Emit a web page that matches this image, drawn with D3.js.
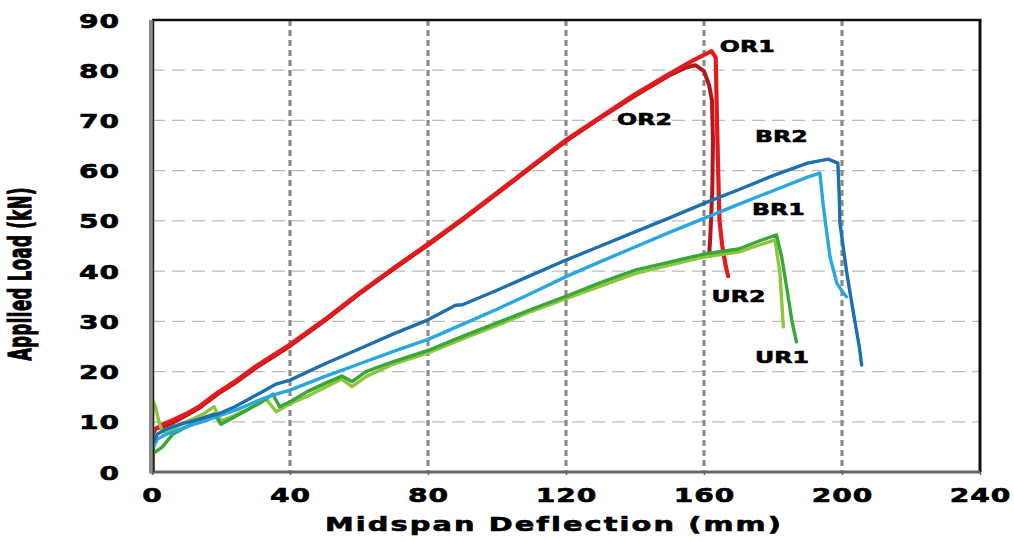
<!DOCTYPE html>
<html>
<head>
<meta charset="utf-8">
<script src="https://cdn.jsdelivr.net/npm/d3@7"></script>
<style>
  html, body { margin: 0; padding: 0; background: #fff; }
  svg { display: block; }
  text { font-family: "DejaVu Sans", sans-serif; font-weight: bold; fill: #000; stroke: #000; stroke-width: 0.6px; }
</style>
</head>
<body>
<svg id="chart" width="1014" height="542"></svg>
<script>
// Tick values
const xTicks = [0, 40, 80, 120, 160, 200, 240];
const yTicks = [0, 10, 20, 30, 40, 50, 60, 70, 80, 90];

// Load–deflection curves: [midspan deflection (mm), applied load (kN)]
const OR2 = [[0.3,0],[0.3,7.5],[1,8.6],[3,9],[6,9.8],[10,11.3],[14,12.9],[19,15.5],[24,17.7],[30,20.7],[35,22.9],[40,25.1],
  [50,30.1],[60,35.4],[70,40.4],[80,45.2],[90,50.2],[100,55.4],[110,60.7],[120,65.9],[130,70.5],[140,74.9],[150,79],
  [155,80.6],[157.5,81],[160,79.8],[161.5,77],[162.3,74],[162.6,66],[162.4,56],[161.9,48],[161.5,43]];
const OR1 = [[0.8,8.5],[3,9.4],[6,10.3],[10,11.6],[14,13.2],[19,15.8],[24,18],[30,21],[35,23.2],[40,25.4],
  [50,30.3],[60,35.6],[70,40.6],[80,45.4],[90,50.4],[100,55.6],[110,60.9],[120,66.1],[130,70.7],[140,75.2],[150,79.3],
  [157,82],[162.2,83.8],[163.4,82.5],[163.7,72],[164.1,60],[164.5,50],[165.3,45],[166.3,41],[167,39]];
const UR2 = [[0.2,0],[0.2,14.3],[1,13],[2,10],[3,8],[6,8.6],[10,10],[15,11.6],[18,13],[20,10.2],[23,11],[28,12.6],
  [33,14.6],[36,12],[40,13.6],[45,15.1],[50,16.8],[55,18.5],[58,17],[62,19],[70,21.5],[80,23.7],[90,26.5],[100,29.2],
  [110,32],[120,34.5],[130,37],[140,39.5],[150,41.2],[160,42.8],[170,43.8],[176,45.2],[180.6,46.2],[182,39.6],[183,28.9]];
const UR1 = [[1,4],[3,5],[6,7.5],[10,9],[14,10.5],[18,11.6],[20,9.5],[24,11],[28,12.5],[32,14],[35,15.5],[37,13],
  [40,14],[45,16],[50,17.6],[55,19.1],[58,18],[62,20],[70,22],[80,24.2],[90,27],[100,29.7],[110,32.4],[120,35],
  [130,37.7],[140,40.2],[150,41.8],[160,43.4],[170,44.4],[176,46],[181,47.2],[182.5,42.9],[184.4,34.9],[185.5,30],[186.8,25.9]];
const BR1 = [[0.5,5],[1.5,6.5],[4,7.5],[8,8.5],[12,9.5],[16,10.3],[20,11.3],[25,12.5],[30,14],[35,15.3],[40,16.3],
  [50,19],[60,21.5],[70,24],[80,26.4],[90,29.4],[100,32.4],[110,35.6],[120,38.9],[130,41.9],[140,44.8],[150,47.7],
  [160,50.5],[170,53.3],[180,56],[190,58.7],[193.6,59.5],[194.6,52.8],[196.5,42.9],[198.5,37.6],[200,36],[201.3,34.9]];
const BR2 = [[0.5,6],[1.5,7.5],[4,8.5],[8,9.5],[12,10.2],[16,11],[19,11.5],[24,13],[28,14.5],[32,16],[36,17.5],[40,18.3],
  [50,21.5],[60,24.5],[70,27.5],[80,30.3],[88,33.2],[90,33.3],[100,36.2],[110,39.2],[120,42.2],[130,45],[140,47.8],
  [150,50.6],[160,53.5],[170,56.2],[180,59],[190,61.5],[196,62.3],[198.8,61.5],[199.2,55],[199.4,49.6],[200.5,44],
  [201.4,39.6],[202.5,35],[203.8,29.7],[205,25],[205.7,21.3]];

// Curve names and where each name sits (deflection, load of the text's left baseline)
const names = ["OR1", "OR2", "BR2", "BR1", "UR2", "UR1"];
const nameAt = [[164.6, 83.6], [134.8, 69.1], [174.8, 65.7], [173.9, 51.2], [162.2, 33.9], [174.8, 21.7]];

const svg = d3.select("#chart");
const plot = { left: 152, right: 980, top: 20, bottom: 472 };
const stretch = 1.48; // horizontal widening applied to all lettering

const x = d3.scaleLinear().domain([0, 240]).range([plot.left, plot.right]);
const y = d3.scaleLinear().domain([0, 90]).range([plot.bottom, plot.top]);

// Horizontal gridlines (light, thin dashes)
svg.append("g").selectAll("line").data(yTicks.filter(v => v > 0 && v < 90)).join("line")
  .attr("x1", plot.left).attr("x2", plot.right)
  .attr("y1", d => y(d)).attr("y2", d => y(d))
  .attr("stroke", "#bdbdbd").attr("stroke-width", 1.2).attr("stroke-dasharray", "13,7");

// Vertical gridlines (heavier grey dashes)
svg.append("g").selectAll("line").data(xTicks.filter(v => v > 0 && v < 240)).join("line")
  .attr("x1", d => x(d)).attr("x2", d => x(d))
  .attr("y1", plot.top).attr("y2", plot.bottom)
  .attr("stroke", "#8c8c8c").attr("stroke-width", 3.2).attr("stroke-dasharray", "6,4");

// Curves
const line = d3.line().x(d => x(d[0])).y(d => y(d[1]));
const curves = [
  { data: OR2, color: "#b3161c", w: 4 },
  { data: OR1, color: "#e41a1c", w: 4.2 },
  { data: UR2, color: "#8cc63f", w: 3.4 },
  { data: UR1, color: "#3aa639", w: 3.4 },
  { data: BR1, color: "#2aa7de", w: 3.4 },
  { data: BR2, color: "#1f6fae", w: 3.4 }
];
svg.append("g").selectAll("path").data(curves).join("path")
  .attr("d", d => line(d.data))
  .attr("fill", "none")
  .attr("stroke", d => d.color)
  .attr("stroke-width", d => d.w)
  .attr("stroke-linejoin", "round")
  .attr("stroke-linecap", "round");

// Frame
svg.append("line").attr("x1", plot.left).attr("x2", plot.right + 1.5).attr("y1", plot.top).attr("y2", plot.top)
  .attr("stroke", "#111").attr("stroke-width", 2.5);
svg.append("line").attr("x1", plot.right).attr("x2", plot.right).attr("y1", plot.top).attr("y2", plot.bottom)
  .attr("stroke", "#111").attr("stroke-width", 3);
svg.append("line").attr("x1", plot.left).attr("x2", plot.right).attr("y1", plot.bottom).attr("y2", plot.bottom)
  .attr("stroke", "#666").attr("stroke-width", 3);
svg.append("line").attr("x1", plot.left - 1).attr("x2", plot.left - 1).attr("y1", plot.top).attr("y2", plot.bottom + 1.5)
  .attr("stroke", "#8a8a8a").attr("stroke-width", 4);
svg.append("line").attr("x1", plot.left + 1.5).attr("x2", plot.left + 1.5).attr("y1", plot.top).attr("y2", plot.bottom)
  .attr("stroke", "#222").attr("stroke-width", 1.5);

// Axes via d3-axis, then restyled
const xAxis = svg.append("g").attr("transform", `translate(0,${plot.bottom})`)
  .call(d3.axisBottom(x).tickValues(xTicks).tickSize(3).tickPadding(0).tickFormat(d3.format("d")));
const yAxis = svg.append("g").attr("transform", `translate(${plot.left},0)`)
  .call(d3.axisLeft(y).tickValues(yTicks).tickSize(0).tickFormat(d3.format("d")));
[xAxis, yAxis].forEach(g => {
  g.select(".domain").remove();
  g.selectAll(".tick line").attr("stroke", "#666").attr("stroke-width", 1.5);
  g.selectAll(".tick text").attr("font-family", null).attr("font-size", null).attr("fill", null);
});
xAxis.selectAll(".tick text")
  .attr("y", 0).attr("dy", null)
  .attr("transform", `translate(0,30) scale(${stretch},1)`)
  .style("font-size", "19px").style("letter-spacing", "0.6px").attr("text-anchor", "middle");
yAxis.selectAll(".tick text")
  .attr("x", 0).attr("dy", null)
  .attr("transform", `translate(-32,7) scale(${stretch},1)`)
  .style("font-size", "19px").style("letter-spacing", "0.6px").attr("text-anchor", "end");

// Axis titles
svg.append("text")
  .attr("transform", `translate(${(plot.left + plot.right) / 2 - 12},531) scale(${stretch},1)`)
  .attr("text-anchor", "middle").style("font-size", "19.5px").style("letter-spacing", "1.4px")
  .text("Midspan Deflection (mm)");
svg.append("text")
  .attr("transform", `translate(31,274) scale(1.9,1) rotate(-90)`)
  .attr("text-anchor", "middle").style("font-size", "16.5px").style("letter-spacing", "0.4px")
  .text("Applied Load (kN)");

// Curve names
svg.append("g").selectAll("text").data(names).join("text")
  .attr("transform", (d, i) => `translate(${x(nameAt[i][0])},${y(nameAt[i][1])}) scale(${stretch},1)`)
  .style("font-size", "16px")
  .text(d => d);
</script>
</body>
</html>
